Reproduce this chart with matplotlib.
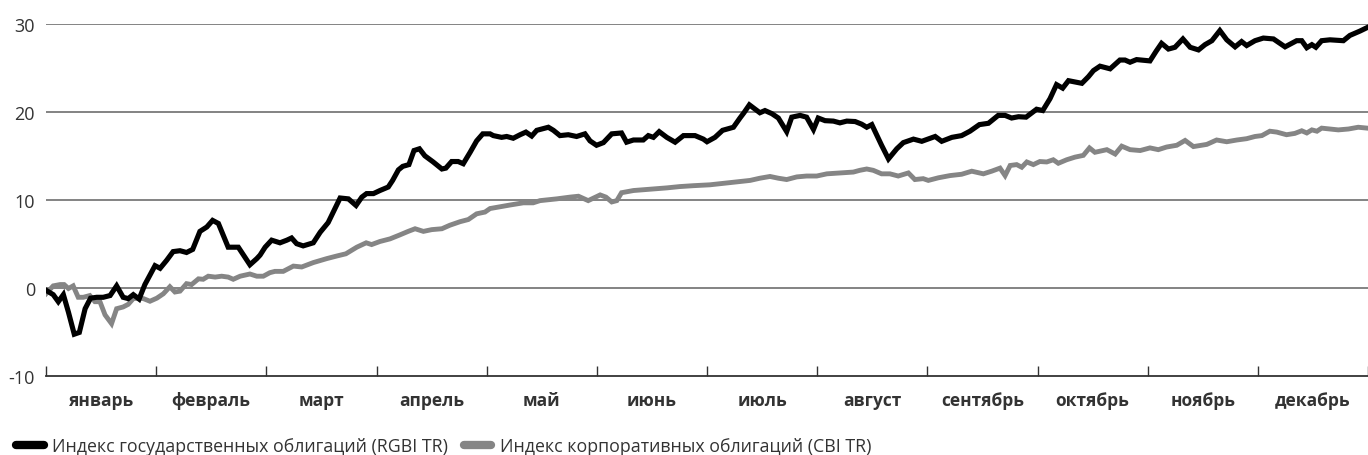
import numpy as np
import matplotlib.pyplot as plt
from matplotlib.lines import Line2D

# day of year -> index value, %
rgbi_day = [0, 2.0, 3.4, 4.8, 6.2, 7.8, 9.2, 10.8, 12.3, 14.0, 15.8, 17.7, 19.5, 21.3, 22.7, 24.1,
            25.7, 27.3, 30.1, 31.5, 33.3, 35.1, 37.0, 38.8, 40.5, 42.5, 44.4, 46.0, 47.6, 49.0, 50.3,
            53.1, 56.3, 58.2, 59.1, 60.5, 62.3, 64.6, 66.5, 67.8, 69.2, 71.0, 73.8, 75.7, 77.9, 79.3,
            81.2, 83.5, 85.6, 87.2, 88.5, 90.4, 92.2, 94.5, 95.7, 97.3, 98.5, 100.2, 101.6, 103.1,
            104.6, 106.9, 109.3, 110.4, 112.0, 113.8, 115.2, 117.1, 118.9, 120.6, 122.6, 123.5, 125.8,
            127.2, 129.0, 130.9, 132.5, 134.1, 135.5, 138.7, 140.1, 141.9, 144.2, 146.5, 148.8, 150.2,
            152.0, 153.9, 156.2, 158.9, 160.3, 162.2, 164.9, 166.3, 167.7, 169.3, 171.4, 173.7, 176.0,
            179.2, 181.5, 182.5, 184.7, 186.8, 189.8, 191.6, 192.7, 194.2, 195.8, 197.1, 198.5, 200.4,
            202.2, 204.5, 205.9, 208.2, 210.0, 211.9, 213.2, 215.1, 217.4, 219.2, 221.1, 223.4, 225.2,
            226.6, 228.0, 230.7, 232.6, 234.9, 236.7, 239.5, 241.8, 245.5, 247.3, 250.1, 252.8, 255.1,
            257.7, 260.2, 262.9, 264.8, 266.6, 268.5, 270.6, 273.5, 275.2, 277.2, 279.0, 280.7, 282.3,
            284.1, 286.0, 287.8, 289.2, 291.0, 293.8, 296.5, 297.9, 299.3, 301.1, 304.8, 306.5, 308.0,
            309.9, 311.7, 313.9, 315.9, 318.2, 320.0, 321.9, 324.1, 326.0, 328.3, 330.1, 331.5, 333.8,
            336.1, 338.9, 342.1, 345.3, 346.7, 348.1, 349.5, 350.6, 352.2, 354.5, 358.2, 360.0, 362.8,
            364.8]
rgbi_val = [-0.3, -0.8, -1.6, -0.8, -2.8, -5.3, -5.1, -2.4, -1.2, -1.1, -1.1, -0.9, 0.2, -1.1, -1.25,
            -0.8, -1.3, 0.35, 2.5, 2.2, 3.1, 4.1, 4.2, 4.0, 4.35, 6.4, 6.9, 7.65, 7.3, 5.9, 4.6,
            4.6, 2.6, 3.3, 3.7, 4.6, 5.4, 5.1, 5.4, 5.65, 5.0, 4.75, 5.1, 6.3, 7.4, 8.6,
            10.2, 10.1, 9.35, 10.3, 10.7, 10.7, 11.05, 11.45, 12.2, 13.4, 13.8, 14.0, 15.6, 15.8,
            15.0, 14.3, 13.5, 13.6, 14.35, 14.35, 14.1, 15.4, 16.7, 17.5, 17.5, 17.3, 17.1,
            17.2, 17.0, 17.4, 17.7, 17.25, 17.9, 18.25, 17.9, 17.3, 17.4, 17.2, 17.5, 16.7,
            16.2, 16.5, 17.5, 17.6, 16.55, 16.8, 16.8, 17.3, 17.1, 17.75, 17.1, 16.55, 17.3,
            17.3, 16.9, 16.6, 17.1, 17.9, 18.25, 19.3, 19.9, 20.8, 20.3, 19.9, 20.15, 19.8,
            19.3, 17.75, 19.4, 19.6, 19.4, 18.0, 19.3, 19.0, 18.95, 18.75, 18.95, 18.9, 18.6,
            18.25, 18.55, 16.2, 14.65, 15.8, 16.5, 16.9, 16.65, 17.2, 16.65, 17.1, 17.3, 17.8,
            18.55, 18.7, 19.6, 19.6, 19.3, 19.45, 19.4, 20.3, 20.15, 21.5, 23.1, 22.7, 23.55,
            23.4, 23.25, 24.0, 24.7, 25.2, 24.9, 25.9, 25.9, 25.65, 25.95, 25.8, 26.9, 27.8,
            27.15, 27.35, 28.3, 27.35, 27.05, 27.65, 28.1, 29.25, 28.2, 27.4, 28.0, 27.55, 28.1,
            28.4, 28.3, 27.4, 28.1, 28.1, 27.3, 27.65, 27.35, 28.1, 28.2, 28.1, 28.7, 29.2,
            29.6]

cbi_day = [0, 2.0, 3.9, 5.0, 6.2, 7.5, 8.9, 10.3, 12.1, 13.5, 14.9, 16.3, 18.1, 19.5, 21.3, 22.7,
           24.1, 25.5, 26.9, 28.7, 30.6, 32.4, 34.2, 35.6, 37.0, 38.8, 40.2, 42.1, 43.4, 44.8, 46.7,
           48.5, 50.3, 51.7, 53.6, 56.3, 58.2, 60.0, 61.8, 63.2, 65.5, 68.3, 70.6, 73.8, 77.5, 80.3,
           82.8, 85.8, 88.4, 89.9, 92.2, 95.0, 97.7, 100.0, 101.9, 104.2, 106.5, 109.3, 111.5, 114.3,
           116.6, 118.9, 121.2, 122.6, 125.3, 128.1, 131.8, 134.5, 136.4, 141.0, 144.7, 147.0, 149.7,
           153.0, 154.6, 156.2, 157.6, 158.9, 162.2, 166.8, 171.4, 175.0, 178.7, 183.3, 189.8, 194.4,
           197.1, 199.9, 202.2, 204.5, 207.3, 210.0, 212.8, 215.6, 219.2, 222.9, 224.7, 226.6, 228.4,
           230.7, 233.0, 235.3, 238.1, 239.9, 242.2, 243.6, 246.4, 249.6, 252.8, 255.6, 258.8, 261.1,
           263.4, 264.8, 266.2, 268.0, 269.4, 270.8, 272.6, 274.4, 276.3, 278.1, 279.5, 281.8, 284.1,
           286.4, 288.1, 289.6, 292.9, 295.2, 297.0, 299.3, 302.1, 304.8, 307.1, 309.4, 312.2, 314.5,
           316.8, 320.5, 323.2, 326.0, 328.8, 331.5, 333.8, 335.7, 337.9, 339.8, 342.5, 344.8, 346.7,
           348.1, 349.5, 350.9, 352.2, 354.5, 356.8, 359.6, 362.3, 364.8]
cbi_val = [-0.7, 0.2, 0.35, 0.35, -0.1, 0.2, -1.1, -1.1, -0.9, -1.6, -1.6, -3.1, -4.1, -2.4, -2.2, -1.9,
           -1.25, -1.2, -1.25, -1.55, -1.2, -0.7, 0.1, -0.5, -0.4, 0.45, 0.35, 1.0, 0.95, 1.3, 1.2,
           1.3, 1.2, 0.95, 1.3, 1.55, 1.3, 1.3, 1.7, 1.85, 1.85, 2.45, 2.35, 2.85, 3.3, 3.6,
           3.85, 4.6, 5.1, 4.9, 5.25, 5.55, 6.0, 6.4, 6.7, 6.4, 6.6, 6.7, 7.1, 7.5,
           7.75, 8.4, 8.6, 9.0, 9.2, 9.4, 9.65, 9.65, 9.9, 10.1, 10.3, 10.4, 9.9,
           10.55, 10.3, 9.75, 9.9, 10.8, 11.05, 11.2, 11.35, 11.5, 11.6, 11.7, 12.0, 12.2,
           12.45, 12.65, 12.45, 12.3, 12.6, 12.7, 12.7, 12.95, 13.05, 13.15, 13.35, 13.5, 13.35,
           12.95, 12.95, 12.7, 13.05, 12.3, 12.4, 12.2, 12.5, 12.75, 12.9, 13.25, 12.95, 13.25,
           13.6, 12.75, 13.9, 14.0, 13.7, 14.3, 14.0, 14.35, 14.3, 14.55, 14.15, 14.55, 14.85,
           15.05, 15.9, 15.4, 15.7, 15.2, 16.1, 15.7, 15.6, 15.9, 15.7, 16.0, 16.2, 16.75,
           16.05, 16.3, 16.8, 16.6, 16.8, 16.95, 17.2, 17.3, 17.8, 17.7, 17.4, 17.55, 17.85,
           17.6, 17.95, 17.8, 18.15, 18.05, 17.95, 18.05, 18.25, 18.15]

months = ['январь', 'февраль', 'март', 'апрель', 'май', 'июнь',
          'июль', 'август', 'сентябрь', 'октябрь', 'ноябрь', 'декабрь']
yticks = [-10, 0, 10, 20, 30]
labels = ['Индекс государственных облигаций (RGBI TR)', 'Индекс корпоративных облигаций (CBI TR)']

plt.rcParams['font.family'] = ['Open Sans', 'DejaVu Sans']
text_c = '#333333'
black_c = '#000000'
gray_c = '#858585'

fig = plt.figure(figsize=(13.68, 4.56), dpi=100)
ax = fig.add_axes([46 / 1368, 79.5 / 456, 1 - 46 / 1368, 351.5 / 456])

ax.plot(cbi_day, cbi_val, color=gray_c, lw=3.5, solid_joinstyle='miter', zorder=3)
ax.plot(rgbi_day, rgbi_val, color=black_c, lw=3.7, solid_joinstyle='miter', zorder=4)

ax.set_xlim(0, 365)
ax.set_ylim(-10, 30)

month_len = 365 / 12
ax.set_xticks(np.arange(13) * month_len)
ax.set_xticklabels([])
ax.set_xticks((np.arange(12) + 0.5) * month_len, minor=True)
ax.set_xticklabels(months, minor=True, fontsize=12.5, fontweight='bold', color=text_c)
ax.tick_params(axis='x', which='major', direction='in', length=7.5, width=1, color=text_c)
ax.tick_params(axis='x', which='minor', length=0, pad=11)

ax.set_yticks(yticks)
ax.set_yticklabels([str(v) for v in yticks], fontsize=13, color=text_c)
ax.tick_params(axis='y', length=0, pad=8)
for v in yticks[1:]:
    ax.axhline(v, color='#7a7a7a', lw=1.3, zorder=1)

for s in ['top', 'right', 'left']:
    ax.spines[s].set_visible(False)
ax.spines['bottom'].set_color(text_c)
ax.spines['bottom'].set_linewidth(1.3)

handles = [Line2D([], [], color=black_c, lw=6, solid_capstyle='round'),
           Line2D([], [], color=gray_c, lw=6, solid_capstyle='round')]
fig.legend(handles, labels, loc='center left', bbox_to_anchor=(16 / 1368, 9 / 456),
           ncol=2, frameon=False, fontsize=12.8, handlelength=1.55, handletextpad=0.5,
           columnspacing=0.85, borderpad=0, borderaxespad=0, labelcolor=text_c)

fig.savefig('out.png', dpi=100)
